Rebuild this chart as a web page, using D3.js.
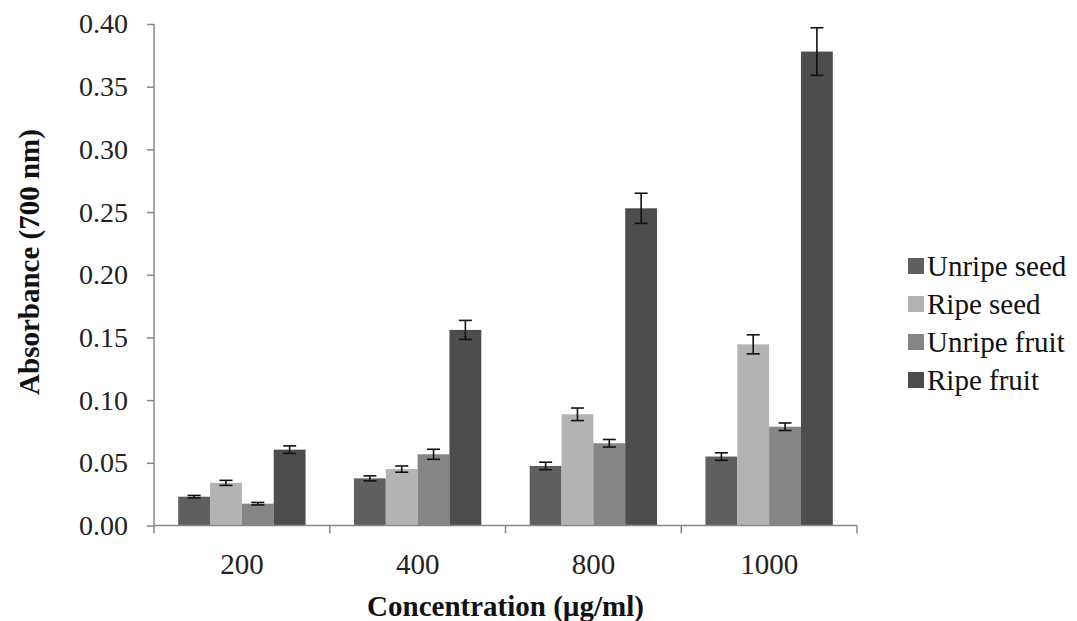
<!DOCTYPE html>
<html>
<head>
<meta charset="utf-8">
<script src="https://cdn.jsdelivr.net/npm/d3@7"></script>
<style>
  body { margin: 0; background: #fff; }
  svg { display: block; }
</style>
</head>
<body>
<div id="chart"></div>
<script>
// Data
const concentrations = ["200", "400", "800", "1000"];
const seriesNames = ["Unripe seed", "Ripe seed", "Unripe fruit", "Ripe fruit"];
const seriesColors = ["#5f5f5f", "#b3b3b3", "#858585", "#4d4d4d"];

const unripeSeed = [0.023, 0.0376, 0.0475, 0.055];
const ripeSeed = [0.034, 0.045, 0.0887, 0.1445];
const unripeFruit = [0.0174, 0.0568, 0.0656, 0.0788];
const ripeFruit = [0.0605, 0.156, 0.253, 0.378];

const unripeSeedErr = [0.001, 0.002, 0.003, 0.003];
const ripeSeedErr = [0.002, 0.0025, 0.005, 0.0076];
const unripeFruitErr = [0.001, 0.004, 0.003, 0.003];
const ripeFruitErr = [0.003, 0.0076, 0.012, 0.019];

const yTicks = [0, 0.05, 0.10, 0.15, 0.20, 0.25, 0.30, 0.35, 0.40];

const values = [unripeSeed, ripeSeed, unripeFruit, ripeFruit];
const errors = [unripeSeedErr, ripeSeedErr, unripeFruitErr, ripeFruitErr];

const width = 1077, height = 621;
const plotLeft = 154, plotRight = 857, plotTop = 24, plotBottom = 525.5;
const font = "'Liberation Serif', 'Times New Roman', 'DejaVu Serif', serif";

const svg = d3.select("#chart").append("svg")
    .attr("width", width)
    .attr("height", height);

const x = d3.scaleBand()
    .domain(concentrations)
    .range([plotLeft, plotRight])
    .paddingInner(0)
    .paddingOuter(0);

const y = d3.scaleLinear()
    .domain([0, 0.4])
    .range([plotBottom, plotTop]);

// inner band for bars inside each category
const x1 = d3.scaleBand()
    .domain(seriesNames)
    .range([0, x.bandwidth()])
    .paddingOuter(0.76)
    .paddingInner(0);

// Bars
seriesNames.forEach((name, s) => {
    const rows = concentrations.map((c, i) => ({ c, v: values[s][i], e: errors[s][i] }));

    svg.append("g")
        .selectAll("rect")
        .data(rows)
        .join("rect")
        .attr("x", d => x(d.c) + x1(name))
        .attr("y", d => y(d.v))
        .attr("width", x1.bandwidth())
        .attr("height", d => y(0) - y(d.v))
        .style("fill", seriesColors[s]);

    // error bars
    const eg = svg.append("g")
        .style("stroke", "#111")
        .style("stroke-width", 1.6);

    rows.forEach(d => {
        const cx = x(d.c) + x1(name) + x1.bandwidth() / 2;
        const capW = 6.5;
        eg.append("line")
            .attr("x1", cx).attr("x2", cx)
            .attr("y1", y(d.v + d.e)).attr("y2", y(d.v - d.e));
        eg.append("line")
            .attr("x1", cx - capW).attr("x2", cx + capW)
            .attr("y1", y(d.v + d.e)).attr("y2", y(d.v + d.e));
        eg.append("line")
            .attr("x1", cx - capW).attr("x2", cx + capW)
            .attr("y1", y(d.v - d.e)).attr("y2", y(d.v - d.e));
    });
});

// Y axis
const yAxis = svg.append("g")
    .attr("transform", `translate(${plotLeft},0)`)
    .call(d3.axisLeft(y).tickValues(yTicks).tickFormat(d3.format(".2f")).tickSize(7).tickPadding(19));
yAxis.select(".domain").attr("d", `M0,${plotTop}V${plotBottom}`);
yAxis.selectAll("line, path").style("stroke", "#888").style("stroke-width", 1.5);
yAxis.selectAll("text")
    .style("font-family", font)
    .style("font-size", "28px")
    .style("fill", "#222");

// X axis
const xAxis = svg.append("g")
    .attr("transform", `translate(0,${plotBottom})`)
    .call(d3.axisBottom(x).tickSize(0).tickPadding(28));
xAxis.select(".domain").attr("d", `M${plotLeft},0H${plotRight}`);
xAxis.selectAll("path").style("stroke", "#888").style("stroke-width", 1.5);
xAxis.selectAll("text")
    .style("font-family", font)
    .style("font-size", "29px")
    .style("fill", "#222");

// separator ticks between categories
const sepPositions = concentrations.map(c => x(c)).concat([x.range()[1]]);
svg.append("g")
    .selectAll("line")
    .data(sepPositions)
    .join("line")
    .attr("x1", d => d).attr("x2", d => d)
    .attr("y1", plotBottom).attr("y2", plotBottom + 8)
    .style("stroke", "#888")
    .style("stroke-width", 1.5);

// Axis titles
svg.append("text")
    .attr("x", (plotLeft + plotRight) / 2)
    .attr("y", 616)
    .style("text-anchor", "middle")
    .style("font-family", font)
    .style("font-weight", "bold")
    .style("font-size", "29px")
    .style("fill", "#111")
    .text("Concentration (µg/ml)");

svg.append("text")
    .attr("transform", `translate(39,${262}) rotate(-90)`)
    .style("text-anchor", "middle")
    .style("font-family", font)
    .style("font-weight", "bold")
    .style("font-size", "29px")
    .style("fill", "#111")
    .text("Absorbance (700 nm)");

// Legend
const legend = svg.append("g")
    .attr("transform", "translate(908,266)");
seriesNames.forEach((name, i) => {
    const row = legend.append("g").attr("transform", `translate(0,${i * 38})`);
    row.append("rect")
        .attr("x", 0).attr("y", -8)
        .attr("width", 16).attr("height", 16)
        .style("fill", seriesColors[i]);
    row.append("text")
        .attr("x", 19)
        .attr("dy", "0.35em")
        .style("font-family", font)
        .style("font-size", "29px")
        .style("fill", "#111")
        .text(name);
});
</script>
</body>
</html>
